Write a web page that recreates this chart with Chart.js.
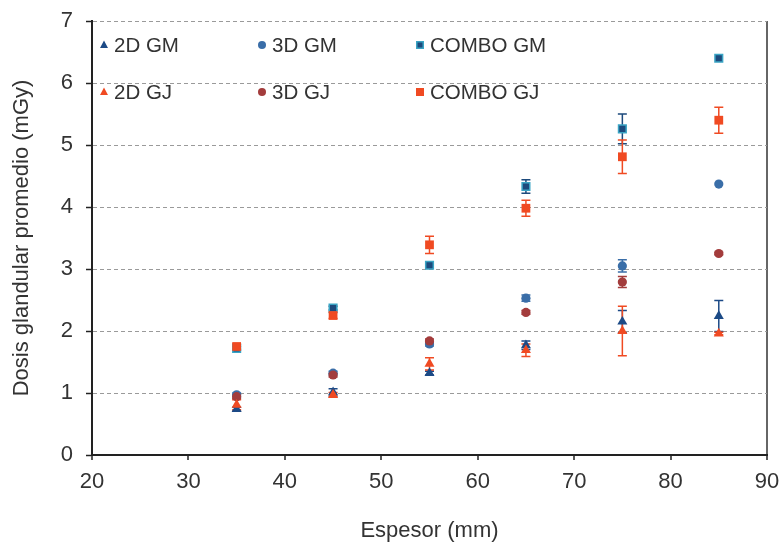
<!DOCTYPE html>
<html>
<head>
<meta charset="utf-8">
<script src="https://cdn.jsdelivr.net/npm/chart.js@4.4.1/dist/chart.umd.min.js"></script>
<style>
  html, body { margin: 0; padding: 0; background: #fff; }
  #wrap { width: 779px; height: 542px; }
</style>
</head>
<body>
<div id="wrap"><canvas id="mainChart" width="779" height="542"></canvas></div>
<script>
// ---- data ----
const espesor = [35, 45, 55, 65, 75, 85];

const dosis2DGM    = [0.74, 1.01, 1.32, 1.77, 2.15, 2.24];
const dosis2DGJ    = [0.81, 0.97, 1.47, 1.69, 2.00, 1.96];
const dosis3DGM    = [0.97, 1.32, 1.79, 2.53, 3.05, 4.37];
const dosis3DGJ    = [0.94, 1.29, 1.84, 2.30, 2.79, 3.25];
const dosisComboGM = [1.72, 2.37, 3.06, 4.33, 5.26, 6.40];
const dosisComboGJ = [1.75, 2.25, 3.39, 3.98, 4.81, 5.40];

// +/- error per point
const err2DGM    = [0.03, 0.06, 0.03, 0.07, 0.18, 0.25];
const err2DGJ    = [0.08, 0.04, 0.10, 0.10, 0.40, 0.02];
const err3DGM    = [0.03, 0.03, 0.03, 0.05, 0.10, 0.00];
const err3DGJ    = [0.03, 0.03, 0.03, 0.03, 0.09, 0.02];
const errComboGM = [0.03, 0.03, 0.02, 0.11, 0.24, 0.00];
const errComboGJ = [0.04, 0.05, 0.14, 0.13, 0.27, 0.21];

const xTicks = [20, 30, 40, 50, 60, 70, 80, 90];
const yTicks = [0, 1, 2, 3, 4, 5, 6, 7];

const FONT = "'Liberation Sans', Arial, sans-serif";
const TEXT = '#333333';

function pts(ys) {
  return espesor.map((x, i) => ({ x, y: ys[i] }));
}

// order: lower number is drawn on top (GJ over GM, as in the reference)
function series(label, ys, errs, style, color, border, radius, borderWidth, order) {
  return {
    label,
    data: pts(ys),
    errors: errs,
    pointStyle: style,
    backgroundColor: color,
    borderColor: border,
    errColor: color,
    pointRadius: radius,
    pointHoverRadius: radius,
    pointBorderWidth: borderWidth,
    showLine: false,
    order,
  };
}

const datasets = [
  series('2D GM', dosis2DGM, err2DGM, 'triangle', '#1c4a86', '#1c4a86', 5.8, 0, 1),
  series('3D GM', dosis3DGM, err3DGM, 'circle', '#3a6ea8', '#3a6ea8', 4.6, 0, 1),
  series('COMBO GM', dosisComboGM, errComboGM, 'rect', '#1d4a7c', '#3aa4c4', 5.4, 1.5, 1),
  series('2D GJ', dosis2DGJ, err2DGJ, 'triangle', '#f04a22', '#f04a22', 5.8, 0, 0),
  series('3D GJ', dosis3DGJ, err3DGJ, 'circle', '#a33c3c', '#a33c3c', 4.6, 0, 0),
  series('COMBO GJ', dosisComboGJ, errComboGJ, 'rect', '#f04a22', '#f04a22', 6.2, 0, 0),
];

// error bars, drawn through the chart scales
const errorBars = {
  id: 'errorBars',
  beforeDatasetsDraw(chart) {
    const { ctx, scales: { x, y } } = chart;
    ctx.save();
    chart.data.datasets.forEach(ds => {
      ctx.strokeStyle = ds.errColor;
      ctx.lineWidth = 1.5;
      ds.data.forEach((p, i) => {
        const e = ds.errors[i];
        if (!e) return;
        const px = x.getPixelForValue(p.x);
        const top = y.getPixelForValue(p.y + e);
        const bot = y.getPixelForValue(p.y - e);
        ctx.beginPath();
        ctx.moveTo(px, top); ctx.lineTo(px, bot);
        ctx.moveTo(px - 4.5, top); ctx.lineTo(px + 4.5, top);
        ctx.moveTo(px - 4.5, bot); ctx.lineTo(px + 4.5, bot);
        ctx.stroke();
      });
    });
    ctx.restore();
  }
};

// legend laid out as in the reference: 3 columns x 2 rows inside the plot
const gridLegend = {
  id: 'gridLegend',
  afterDraw(chart) {
    const { ctx } = chart;
    const cols = [104, 262, 420];
    const rows = [45, 92];
    ctx.save();
    ctx.font = '20.5px ' + FONT;
    ctx.textBaseline = 'middle';
    ctx.textAlign = 'left';
    chart.data.datasets.forEach((ds, i) => {
      const cx = cols[i % 3];
      const cy = rows[Math.floor(i / 3)];
      ctx.fillStyle = ds.backgroundColor;
      ctx.beginPath();
      if (ds.pointStyle === 'triangle') {
        ctx.moveTo(cx, cy - 4.5);
        ctx.lineTo(cx + 4, cy + 3);
        ctx.lineTo(cx - 4, cy + 3);
        ctx.closePath();
        ctx.fill();
      } else if (ds.pointStyle === 'circle') {
        ctx.arc(cx, cy, 4, 0, Math.PI * 2);
        ctx.fill();
      } else if (ds.pointBorderWidth) {
        ctx.fillStyle = ds.borderColor;
        ctx.fillRect(cx - 4, cy - 4, 8, 8);
        ctx.fillStyle = ds.backgroundColor;
        ctx.fillRect(cx - 2.5, cy - 2.5, 5, 5);
      } else {
        ctx.fillRect(cx - 4, cy - 4, 8, 8);
      }
      ctx.fillStyle = TEXT;
      ctx.fillText(ds.label, cx + 10, cy + 1);
    });
    ctx.restore();
  }
};

const ctx = document.getElementById('mainChart').getContext('2d');
new Chart(ctx, {
  type: 'scatter',
  data: { datasets },
  plugins: [errorBars, gridLegend],
  options: {
    responsive: false,
    animation: false,
    layout: { padding: { top: 21, right: 12, left: 0, bottom: 0 } },
    plugins: {
      legend: { display: false },
      tooltip: { enabled: false },
    },
    scales: {
      x: {
        type: 'linear',
        min: 20, max: 90,
        afterBuildTicks: s => { s.ticks = xTicks.map(v => ({ value: v })); },
        afterFit: s => { s.height = 87; s.paddingRight = 4; },
        ticks: { color: TEXT, font: { family: FONT, size: 22 }, padding: 9 },
        grid: {
          color: c => (c.tick && c.tick.value === 90) ? '#666666' : 'transparent',
          lineWidth: 2,
          drawTicks: true,
          tickLength: 5,
          tickColor: '#222222',
          tickWidth: 1.5,
        },
        border: { display: true, color: '#222222', width: 2 },
        title: {
          display: true, text: 'Espesor (mm)', color: TEXT,
          font: { family: FONT, size: 22 }, padding: { top: 0, bottom: -2 },
        },
      },
      y: {
        type: 'linear',
        min: 0, max: 7,
        afterBuildTicks: s => { s.ticks = yTicks.map(v => ({ value: v })); },
        afterFit: s => { s.width = 92; s.paddingTop = 0; s.paddingBottom = 0; },
        ticks: { color: TEXT, font: { family: FONT, size: 22 }, padding: 13 },
        grid: {
          color: c => (c.tick && c.tick.value === 0) ? 'transparent' : '#9a9a9a',
          lineWidth: 1,
          drawTicks: true,
          tickLength: 6,
          tickColor: '#222222',
          tickWidth: 1.5,
          tickBorderDash: [],
        },
        border: { display: true, color: '#222222', width: 2, dash: [4, 3] },
        title: {
          display: true, text: 'Dosis glandular promedio (mGy)', color: TEXT,
          font: { family: FONT, size: 22 }, padding: { top: 9, bottom: 0 },
        },
      },
    },
  },
});
</script>
</body>
</html>
